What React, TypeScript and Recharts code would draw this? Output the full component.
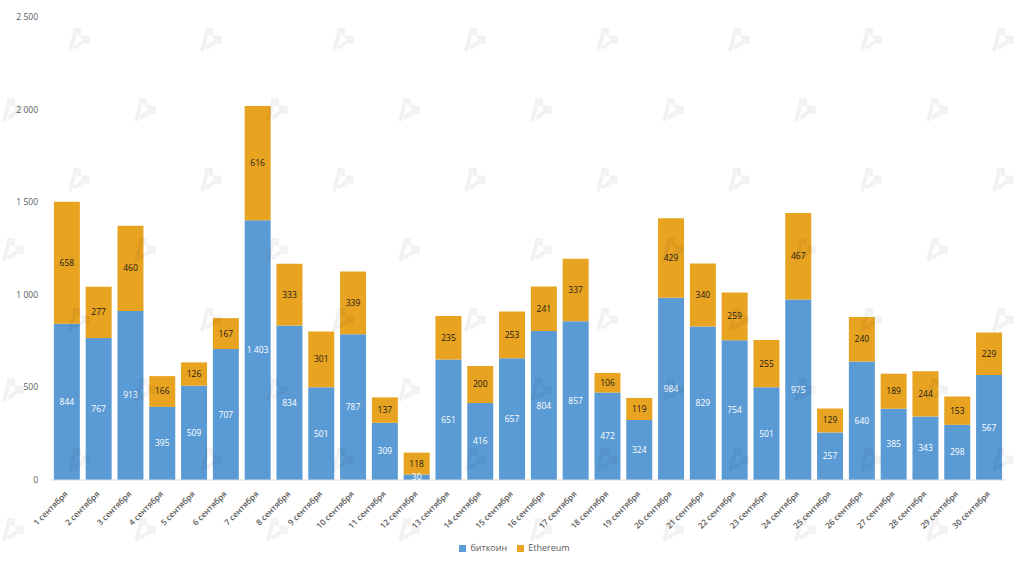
import React from "react";
import { BarChart, Bar, XAxis, YAxis, Legend, LabelList } from "recharts";

const days = Array.from({ length: 30 }, (_, i) => `${i + 1} сентября`);
const bitcoin = [844, 767, 913, 395, 509, 707, 1403, 834, 501, 787, 309, 30, 651, 416, 657, 804, 857, 472, 324, 984, 829, 754, 501, 975, 257, 640, 385, 343, 298, 567];
const ethereum = [658, 277, 460, 166, 126, 167, 616, 333, 301, 339, 137, 118, 235, 200, 253, 241, 337, 106, 119, 429, 340, 259, 255, 467, 129, 240, 189, 244, 153, 229];
const yTicks = [0, 500, 1000, 1500, 2000, 2500];
const data = days.map((day, i) => ({ day, btc: bitcoin[i], eth: ethereum[i] }));

const FONT = "'Open Sans', sans-serif";
const fmt = (v: number) => (v >= 1000 ? `${Math.floor(v / 1000)}\u00a0${String(v % 1000).padStart(3, "0")}` : String(v));

const XTick = ({ x, y, payload }: any) => (
  <text
    x={0}
    y={0}
    transform={`translate(${x},${y + 5}) rotate(-45)`}
    textAnchor="end"
    dominantBaseline="middle"
    fontSize={8.2}
    fontWeight={600}
    fill="#595959"
    fontFamily={FONT}
  >
    {payload.value}
  </text>
);

const Watermark = () => (
  <svg width={1024} height={568} style={{ position: "absolute", left: 0, top: 0, pointerEvents: "none" }}>
    <defs>
      <g id="wm" fill="none" stroke="#000" strokeOpacity={0.05} strokeWidth={4} strokeLinejoin="round">
        <path d="M-8 11 L-3 -8 M-5 -10 L1 -10 L1 -4 M-4 8 L9 -1 M3 -3 L10 -2 L9 4" />
      </g>
      <pattern id="wmp" width={132} height={140} patternUnits="userSpaceOnUse" patternTransform="translate(12,40)">
        <use href="#wm" x={66} y={0} />
        <use href="#wm" x={66} y={140} />
        <use href="#wm" x={0} y={70} />
        <use href="#wm" x={132} y={70} />
      </pattern>
    </defs>
    <rect width={1024} height={568} fill="url(#wmp)" />
  </svg>
);

export default function App() {
  return (
    <div style={{ position: "absolute", left: 0, top: 0, width: 1024, height: 568 }}>
      <BarChart
        width={1024}
        height={568}
        data={data}
        margin={{ top: 17, right: 19, bottom: 0, left: 0 }}
        barCategoryGap="9%"
        style={{ fontFamily: FONT }}
      >
        <XAxis
          dataKey="day"
          interval={0}
          height={75}
          tick={<XTick />}
          tickLine={false}
          axisLine={{ stroke: "#d9d9d9" }}
        />
        <YAxis
          width={51}
          domain={[0, 2500]}
          ticks={yTicks}
          tickFormatter={fmt}
          tickLine={false}
          axisLine={false}
          tick={{ fontSize: 8.5, fill: "#595959", fontFamily: FONT, dx: -5 }}
        />
        <Legend
          verticalAlign="bottom"
          align="center"
          iconType="square"
          iconSize={7}
          itemSorter={(item: any) => (item.dataKey === "btc" ? 0 : 1)}
          wrapperStyle={{ fontSize: 9, fontFamily: FONT, bottom: 14, left: 17, color: "#595959" }}
          formatter={(v: string) => <span style={{ color: "#595959" }}>{v}</span>}
        />
        <Bar dataKey="btc" name="биткоин" stackId="a" fill="#5b9bd5" isAnimationActive={false}>
          <LabelList dataKey="btc" position="center" formatter={fmt} fill="#ffffff" fontSize={8.5} fontFamily={FONT} />
        </Bar>
        <Bar dataKey="eth" name="Ethereum" stackId="a" fill="#e8a320" isAnimationActive={false}>
          <LabelList dataKey="eth" position="center" formatter={fmt} fill="#1a1a1a" fontSize={8.5} fontFamily={FONT} />
        </Bar>
      </BarChart>
      <Watermark />
    </div>
  );
}
